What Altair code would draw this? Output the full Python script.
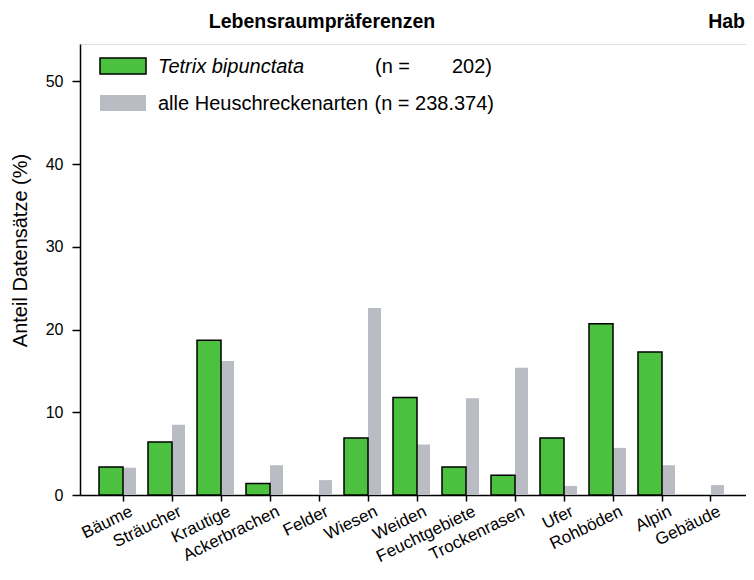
import altair as alt
import pandas as pd

# ---- data ----
categories = ["Bäume", "Sträucher", "Krautige", "Ackerbrachen", "Felder", "Wiesen",
              "Weiden", "Feuchtgebiete", "Trockenrasen", "Ufer", "Rohböden", "Alpin", "Gebäude"]
tetrix = [3.4, 6.4, 18.7, 1.4, 0.0, 6.9, 11.8, 3.4, 2.4, 6.9, 20.7, 17.3, 0.0]
alle = [3.3, 8.5, 16.2, 3.6, 1.8, 22.6, 6.1, 11.7, 15.4, 1.1, 5.7, 3.6, 1.2]
series_names = ["Tetrix bipunctata", "alle Heuschreckenarten"]
n_prefix = ["(n =", "(n = 238.374)"]
n_suffix = ["202)", ""]
y_ticks = [0, 10, 20, 30, 40, 50]
panel_title = "Lebensraumpräferenzen"
next_panel_title = "Hab"
y_title = "Anteil Datensätze (%)"

GREEN = "#4cc13f"
GREY = "#b9bcc3"
FONT = "Liberation Sans"

df = pd.DataFrame({"Kategorie": categories, "Tetrix": tetrix, "Alle": alle})
one = pd.DataFrame({"k": [0]})

W, H = 666, 451
xscale = alt.Scale(domain=categories, paddingInner=0, paddingOuter=0.296, align=0.638)
yscale = alt.Scale(domain=[0, 54.53], nice=False, zero=True)

xaxis = alt.Axis(title=None, labelAngle=334, labelAlign="right", labelBaseline="top",
                 labelFontSize=17, labelFont=FONT, labelColor="black", labelPadding=2,
                 labelOffset=5, tickSize=6, tickWidth=1.5, tickColor="black",
                 domainColor="black", domainWidth=1.5, grid=False)
yaxis = alt.Axis(title=y_title, values=y_ticks, labelFontSize=16, labelFont=FONT,
                 labelColor="black", labelPadding=9, tickSize=8, tickWidth=1.5,
                 tickColor="black", domainColor="black", domainWidth=1.5, grid=False,
                 titleFont=FONT, titleFontSize=20, titleFontWeight="normal",
                 titleColor="black", titleX=-60, titleY=206, titleBaseline="middle",
                 titleAlign="center", titleAngle=270)

grey_bars = alt.Chart(df).mark_bar(width=13, xOffset=6.5, color=GREY).encode(
    x=alt.X("Kategorie:N", scale=xscale, axis=xaxis, sort=categories),
    y=alt.Y("Alle:Q", scale=yscale, axis=yaxis),
)
green_bars = alt.Chart(df).transform_filter("datum.Tetrix > 0").mark_bar(
    width=24, xOffset=-12, color=GREEN, stroke="black", strokeWidth=1.5).encode(
    x=alt.X("Kategorie:N", scale=xscale, sort=categories),
    y=alt.Y("Tetrix:Q", scale=yscale),
)

# legend (drawn as annotation)
leg_green = alt.Chart(one).mark_rect(color=GREEN, stroke="black", strokeWidth=1.5).encode(
    x=alt.value(20), x2=alt.value(66), y=alt.value(14), y2=alt.value(30))
leg_grey = alt.Chart(one).mark_rect(color=GREY).encode(
    x=alt.value(20), x2=alt.value(66), y=alt.value(51), y2=alt.value(67))

def txt(s, x, y, align="left", style="normal", weight="normal", size=20):
    return alt.Chart(one).mark_text(text=s, align=align, baseline="middle", font=FONT,
                                    fontSize=size, fontStyle=style, fontWeight=weight,
                                    color="black").encode(x=alt.value(x), y=alt.value(y))

layers = [
    grey_bars, green_bars, leg_green, leg_grey,
    txt(series_names[0], 78, 23, style="italic"),
    txt(n_prefix[0], 295, 23),
    txt(n_suffix[0], 412, 23, align="right"),
    txt(series_names[1], 78, 60),
    txt(n_prefix[1], 414, 60, align="right"),
    txt(panel_title, 242, -22, align="center", weight="bold", size=19.5),
    txt(next_panel_title, 665, -22, align="right", weight="bold", size=19.5),
]

chart = alt.layer(*layers).properties(
    width=W, height=H,
    autosize=alt.AutoSizeParams(type="none"),
    padding={"left": 72, "top": 36, "right": 0, "bottom": 73},
).configure_view(stroke=None).configure(background="white")

chart.save("out.html", embed_options={"renderer": "svg", "actions": False})
